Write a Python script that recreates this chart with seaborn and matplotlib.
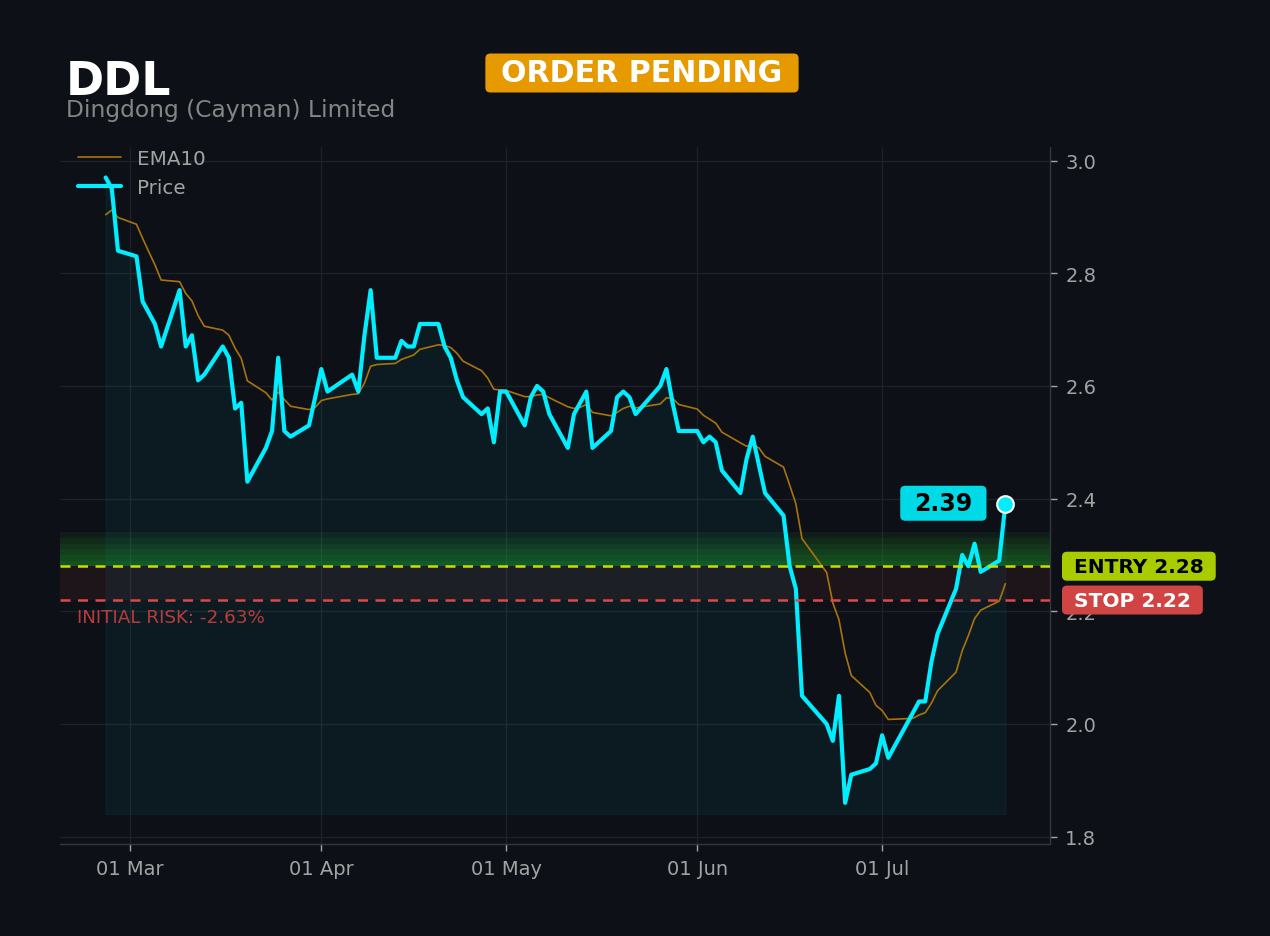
import numpy as np
import pandas as pd
import matplotlib
matplotlib.use("Agg")
import matplotlib.pyplot as plt
import matplotlib.dates as mdates
import matplotlib.ticker as mticker
import matplotlib.transforms as mtransforms
from matplotlib.patches import FancyBboxPatch
import seaborn as sns

# ------------------------------------------------------------
# Data
# ------------------------------------------------------------

TICKER = "DDL"
COMPANY = "Dingdong (Cayman) Limited"
STATUS = "ORDER PENDING"

START_DATE = "2026-02-25"
END_DATE = "2026-07-21"
HOLIDAYS = ["2026-04-03", "2026-05-25", "2026-06-19", "2026-07-03"]

price = [
    2.97, 2.95, 2.84,
    2.83, 2.75, 2.73, 2.71, 2.67,
    2.77, 2.67, 2.69, 2.61, 2.62,
    2.67, 2.65, 2.56, 2.57, 2.43,
    2.49, 2.52, 2.65, 2.52, 2.51,
    2.53, 2.58, 2.63, 2.59,
    2.62, 2.59, 2.69, 2.77, 2.65,
    2.65, 2.68, 2.67, 2.67, 2.71,
    2.71, 2.67, 2.65, 2.61, 2.58,
    2.55, 2.56, 2.50, 2.59, 2.59,
    2.53, 2.58, 2.60, 2.59, 2.55,
    2.49, 2.55, 2.57, 2.59, 2.49,
    2.52, 2.58, 2.59, 2.58, 2.55,
    2.60, 2.63, 2.57, 2.52,
    2.52, 2.50, 2.51, 2.50, 2.45,
    2.41, 2.47, 2.51, 2.46, 2.41,
    2.37, 2.28, 2.24, 2.05,
    2.00, 1.97, 2.05, 1.86, 1.91,
    1.92, 1.93, 1.98, 1.94,
    2.02, 2.04, 2.04, 2.11, 2.16,
    2.24, 2.30, 2.28, 2.32, 2.27,
    2.29, 2.39,
]

ema10 = [
    2.904, 2.912, 2.899,
    2.887, 2.862, 2.838, 2.815, 2.788,
    2.785, 2.764, 2.751, 2.725, 2.706,
    2.699, 2.690, 2.667, 2.649, 2.609,
    2.588, 2.575, 2.589, 2.576, 2.564,
    2.558, 2.562, 2.574, 2.577,
    2.585, 2.586, 2.605, 2.635, 2.638,
    2.640, 2.647, 2.651, 2.655, 2.665,
    2.673, 2.672, 2.668, 2.658, 2.644,
    2.627, 2.614, 2.594, 2.593, 2.592,
    2.581, 2.581, 2.584, 2.585, 2.579,
    2.563, 2.560, 2.562, 2.567, 2.553,
    2.547, 2.553, 2.560, 2.564, 2.561,
    2.568, 2.579, 2.578, 2.567,
    2.559, 2.548, 2.541, 2.534, 2.518,
    2.499, 2.493, 2.496, 2.490, 2.475,
    2.456, 2.424, 2.391, 2.329,
    2.269, 2.215, 2.185, 2.126, 2.086,
    2.056, 2.033, 2.024, 2.008,
    2.010, 2.016, 2.020, 2.037, 2.059,
    2.092, 2.130, 2.157, 2.187, 2.202,
    2.218, 2.249,
]

ENTRY = 2.28
STOP = 2.22
FILL_FLOOR = 1.84

dates = pd.bdate_range(START_DATE, END_DATE, freq="C", holidays=HOLIDAYS)
df = pd.DataFrame({"date": dates, "price": price, "ema": ema10})

# ------------------------------------------------------------
# Style
# ------------------------------------------------------------

BG = "#0d1117"
GRID = "#1d2228"
TXT = "#a3a3a3"
CYAN = "#00eeff"

sns.set_theme(style="dark")
plt.rcParams["font.family"] = ["DejaVu Sans"]

fig = plt.figure(figsize=(12.7, 9.37), dpi=100, facecolor=BG)
ax = fig.add_axes([0.0472, 0.0982, 0.7796, 0.7438])
ax.set_facecolor(BG)

# entry glow and risk zone
for k in range(1, 7):
    ax.axhspan(ENTRY, ENTRY + k * 0.01, color="#2bc832", alpha=0.075, lw=0, zorder=1)
ax.axhspan(STOP, ENTRY, color="#ff4a4a", alpha=0.07, lw=0, zorder=1)

ax.fill_between(df["date"], df["price"], FILL_FLOOR, color="#00e5ff",
                alpha=0.05, lw=0.8, zorder=1.5)

sns.lineplot(data=df, x="date", y="ema", ax=ax, color="#a8730f", lw=1.2,
             label="EMA10", zorder=3)
sns.lineplot(data=df, x="date", y="price", ax=ax, color=CYAN, lw=3,
             label="Price", zorder=4)

ax.axhline(ENTRY, color="#c8e000", ls=(0, (4, 3)), lw=1.8, zorder=5)
ax.axhline(STOP, color="#e04848", ls=(0, (4, 3)), lw=1.8, zorder=5)

last_date = df["date"].iloc[-1]
last_price = df["price"].iloc[-1]
ax.plot([last_date], [last_price], "o", ms=12, color=CYAN, mec="white",
        mew=1.5, zorder=6)
last_txt = ax.annotate(f"{last_price:.2f}", (last_date, last_price),
                       xytext=(-62, 1), textcoords="offset pixels",
                       ha="center", va="center", fontsize=17, fontweight="bold",
                       color="black", zorder=8)

# ------------------------------------------------------------
# Axes
# ------------------------------------------------------------

ax.set_ylim(1.787, 3.024)
ax.set_xlim(pd.Timestamp("2026-02-17 14:00"), pd.Timestamp("2026-07-28 06:00"))
ax.yaxis.tick_right()
ax.set_yticks([1.8, 2.0, 2.2, 2.4, 2.6, 2.8, 3.0])
ax.yaxis.set_major_formatter(mticker.FormatStrFormatter("%.1f"))
ax.xaxis.set_major_locator(mdates.MonthLocator())
ax.xaxis.set_major_formatter(mdates.DateFormatter("%d %b"))
ax.tick_params(axis="both", colors=TXT, labelsize=14, length=5, width=1,
               pad=6, direction="out")
ax.tick_params(axis="y", right=True, left=False)
ax.tick_params(axis="x", bottom=True)
ax.set_xlabel("")
ax.set_ylabel("")
ax.grid(True, color=GRID, lw=0.9)
for side in ["top", "left"]:
    ax.spines[side].set_visible(False)
for side in ["right", "bottom"]:
    ax.spines[side].set_visible(True)
    ax.spines[side].set_color("#33383f")
    ax.spines[side].set_linewidth(1.0)

ax.legend(loc="upper left", frameon=False, fontsize=14.3, labelcolor=TXT,
          borderaxespad=0.2, handlelength=2.2, bbox_to_anchor=(0.006, 1.0143))

# level labels on the right
trans = mtransforms.blended_transform_factory(ax.transAxes, ax.transData)
entry_txt = ax.text(1.0242, ENTRY, f"ENTRY {ENTRY:.2f}", transform=trans,
                    ha="left", va="center", fontsize=14.5, fontweight="bold",
                    color="black", clip_on=False, zorder=8)
stop_txt = ax.text(1.0242, STOP, f"STOP {STOP:.2f}", transform=trans,
                   ha="left", va="center", fontsize=14.5, fontweight="bold",
                   color="white", clip_on=False, zorder=8)

risk = (STOP - ENTRY) / ENTRY * 100
ax.text(0.017, STOP - 0.03, f"INITIAL RISK: {risk:.2f}%", transform=trans,
        ha="left", va="center", fontsize=13.2, color="#b83c3c", zorder=8)

# ------------------------------------------------------------
# Header
# ------------------------------------------------------------

fig.text(0.052, 1 - 95 / 937, TICKER, fontsize=33, fontweight="bold",
         color="white", va="baseline", ha="left")
fig.text(0.052, 1 - 117 / 937, COMPANY, fontsize=16.8, color="#858585",
         va="baseline", ha="left")
status_txt = fig.text(0.5055, 1 - 74 / 937, STATUS, fontsize=21.6,
                      fontweight="bold", color="white", ha="center", va="center",
                      zorder=3)


# ------------------------------------------------------------
# Rounded label boxes sized around their texts
# ------------------------------------------------------------

fig.canvas.draw()


def pill(txt, pad_x, height, fc, parent):
    bb = txt.get_window_extent()
    cy = (bb.y0 + bb.y1) / 2
    box = FancyBboxPatch((bb.x0 - pad_x, cy - height / 2),
                         bb.width + 2 * pad_x, height,
                         boxstyle="round,pad=0,rounding_size=5",
                         transform=mtransforms.IdentityTransform(),
                         fc=fc, ec="none", zorder=txt.get_zorder() - 0.1,
                         clip_on=False)
    parent.add_artist(box)


pill(last_txt, 14, 35, "#00d9e6", ax)
pill(entry_txt, 12, 29, "#a8cc00", ax)
pill(stop_txt, 12, 29, "#d04444", ax)
pill(status_txt, 16, 39, "#e69a00", fig)

fig.savefig("out.png", dpi=100, facecolor=BG)
